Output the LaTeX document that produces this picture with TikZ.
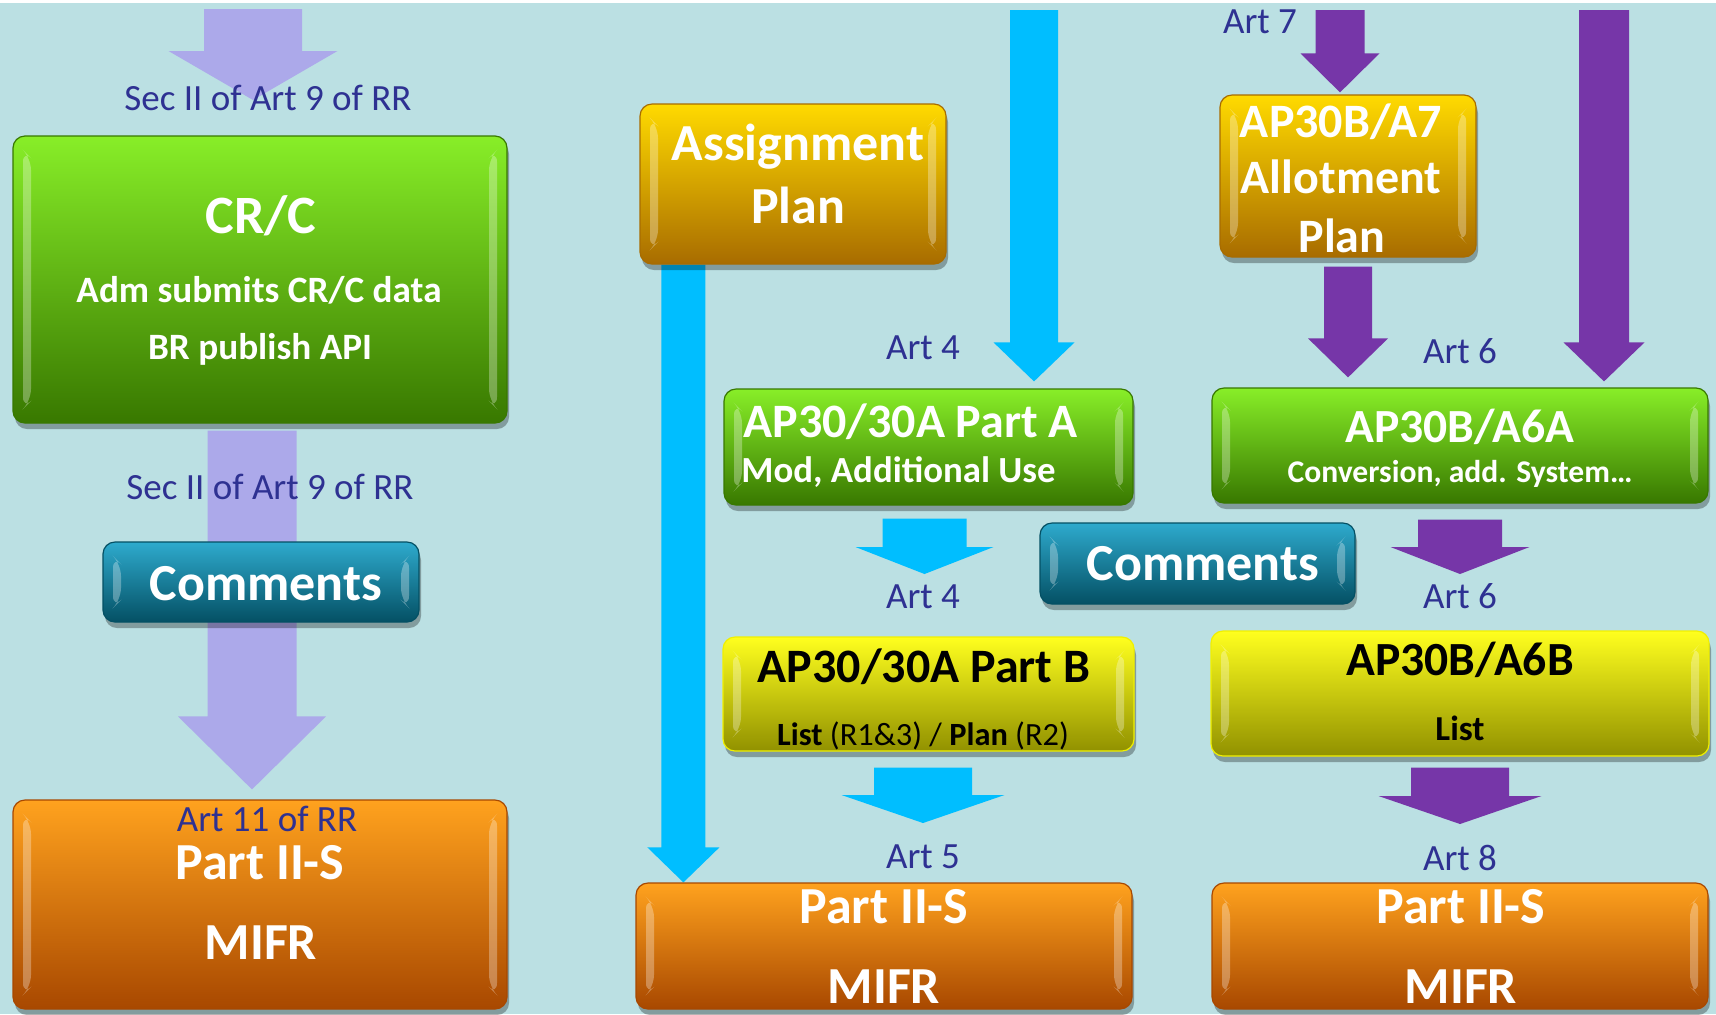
\documentclass[tikz,border=0pt]{standalone}
\usepackage{fontspec}
\setmainfont{Carlito}
\usepackage{tikz}
\usetikzlibrary{calc}
\usetikzlibrary{shadows}
\usetikzlibrary{positioning}

\definecolor{bgblue}{RGB}{187,224,227}
\definecolor{lavender}{RGB}{172,169,234}
\definecolor{skyflow}{RGB}{0,190,255}
\definecolor{purpflow}{RGB}{118,54,168}
\definecolor{tagblue}{RGB}{46,49,146}
\definecolor{greenT}{RGB}{136,238,40}
\definecolor{greenB}{RGB}{56,120,0}
\definecolor{tealT}{RGB}{46,170,205}
\definecolor{tealB}{RGB}{4,80,100}
\definecolor{orangeT}{RGB}{255,162,30}
\definecolor{orangeB}{RGB}{168,72,0}
\definecolor{amberT}{RGB}{255,218,0}
\definecolor{amberB}{RGB}{168,108,0}
\definecolor{yellowT}{RGB}{255,255,30}
\definecolor{yellowB}{RGB}{145,145,0}
\definecolor{yellowE}{RGB}{240,240,0}

\pgfdeclarelayer{back}
\pgfdeclarelayer{flow}
\pgfsetlayers{back,flow,main}

% fat arrow: colour, shaft half width, head half width, head length, from, to (sizes in px)
\newcommand{\blockarrow}[6]{%
	\fill[#1] let \p1=(#5), \p2=(#6) in
		(\x1-#2*0.5pt,\y1) -- (\x1+#2*0.5pt,\y1) -- (\x1+#2*0.5pt,\y2+#4*0.5pt)
		-- (\x1+#3*0.5pt,\y2+#4*0.5pt) -- (\x1,\y2) -- (\x1-#3*0.5pt,\y2+#4*0.5pt)
		-- (\x1-#2*0.5pt,\y2+#4*0.5pt) -- cycle;}

\tikzset{
	box/.style 2 args={draw=#2, line width=.6pt, rounded corners=6pt, inner sep=0pt,
		top color=#1, bottom color=#2,
		drop shadow={shadow xshift=1pt, shadow yshift=-3pt, opacity=.3, fill=black},
		path picture={
			\fill[white,opacity=.3] ([xshift=5pt,yshift=-7pt]path picture bounding box.north west)
				-- ([xshift=9pt,yshift=-11pt]path picture bounding box.north west)
				-- ([xshift=9pt,yshift=11pt]path picture bounding box.south west)
				-- ([xshift=5pt,yshift=7pt]path picture bounding box.south west) -- cycle;
			\fill[white,opacity=.3] ([xshift=-5pt,yshift=-7pt]path picture bounding box.north east)
				-- ([xshift=-9pt,yshift=-11pt]path picture bounding box.north east)
				-- ([xshift=-9pt,yshift=11pt]path picture bounding box.south east)
				-- ([xshift=-5pt,yshift=7pt]path picture bounding box.south east) -- cycle;
		}},
	greenbox/.style={box={greenT}{greenB}},
	tealbox/.style={box={tealT}{tealB}},
	orangebox/.style={box={orangeT}{orangeB}},
	amberbox/.style={box={amberT}{amberB}},
	yellowbox/.style={box={yellowT}{yellowB}, draw=yellowE},
	boxtitle/.style={font=\fontsize{#1}{#1}\selectfont\bfseries, text=white, anchor=base, inner sep=0pt},
	boxtitle/.default=26,
	boxline/.style={font=\fontsize{#1}{#1}\selectfont\bfseries, text=white, anchor=base, inner sep=0pt},
	boxline/.default=18.6,
	artlabel/.style={font=\fontsize{18.5}{18.5}\selectfont, text=tagblue, anchor=base, inner sep=0pt},
}

\begin{document}
\begin{tikzpicture}[x=0.5pt, y=-0.5pt]
	\useasboundingbox (0,0) rectangle (1716,1014);
	\begin{pgfonlayer}{back}
		\fill[white] (0,0) rectangle (1716,3);
		\fill[bgblue] (0,3) rectangle (1716,1014);
	\end{pgfonlayer}

	% boxes
	\node[greenbox, minimum width=247pt, minimum height=143.5pt] (crc) at (260,279.5) {};
	\node[tealbox, minimum width=158pt, minimum height=40pt] (comL) at (261,582) {};
	\node[orangebox, minimum width=247pt, minimum height=104.5pt] (mifrL) at (260,904.5) {};
	\node[amberbox, minimum width=153pt, minimum height=80pt] (assign) at (793,184) {};
	\node[greenbox, minimum width=204.5pt, minimum height=58pt] (partA) at (928.5,447) {};
	\node[tealbox, minimum width=157.5pt, minimum height=40.5pt] (comM) at (1197.5,563.5) {};
	\node[yellowbox, minimum width=205.5pt, minimum height=57pt] (partB) at (928.5,694) {};
	\node[orangebox, minimum width=248pt, minimum height=63pt] (mifrM) at (884,946) {};
	\node[amberbox, minimum width=128pt, minimum height=81pt] (allot) at (1348,176) {};
	\node[greenbox, minimum width=248pt, minimum height=57.5pt] (a6a) at (1460,445.5) {};
	\node[yellowbox, minimum width=249pt, minimum height=62.5pt] (a6b) at (1460,693.5) {};
	\node[orangebox, minimum width=248pt, minimum height=63pt] (mifrR) at (1460,946) {};

	\coordinate (lavTop) at (253,9);
	\coordinate (lavTip) at (253,100);
	\coordinate (skyTop) at (1034,10);
	\coordinate (skyCtip) at (924,574);
	\coordinate (skyDtip) at (923,823);
	\coordinate (purTopA) at (1340,10);
	\coordinate (purTopB) at (1604,10);
	\coordinate (purHtip) at (1460,574);
	\coordinate (purItip) at (1460,824);

	% flows
	\begin{pgfonlayer}{flow}
		\blockarrow{lavender}{49}{84.5}{49}{lavTop}{lavTip}
		\blockarrow{lavender}{44.5}{74}{73}{[xshift=-4pt,yshift=-3.5pt]crc.south}{[yshift=5pt]mifrL.north}
		\blockarrow{skyflow}{22}{36}{35}{[xshift=22pt]assign.south west}{mifrM.north}
		\blockarrow{skyflow}{24}{40.5}{39}{skyTop}{[yshift=3.5pt]partA.north}
		\blockarrow{skyflow}{42}{69}{27}{[xshift=-2pt,yshift=-6.5pt]partA.south}{skyCtip}
		\blockarrow{skyflow}{49}{81.5}{28}{[xshift=-2.75pt,yshift=-8pt]partB.south}{skyDtip}
		\blockarrow{purpflow}{24.5}{39.5}{39}{purTopA}{[yshift=1pt]allot.north}
		\blockarrow{purpflow}{24}{40}{39}{[yshift=-4.5pt]allot.south}{[yshift=5pt]a6a.north}
		\blockarrow{purpflow}{25}{40.5}{39}{purTopB}{[yshift=3pt]a6a.north}
		\blockarrow{purpflow}{42}{69.5}{27}{[yshift=-8pt]a6a.south}{purHtip}
		\blockarrow{purpflow}{49}{81.5}{28}{[yshift=-5.5pt]a6b.south}{purItip}
	\end{pgfonlayer}

	% labels
	\node[artlabel] (secA) at (268,110) {Sec II of Art 9 of RR};
	\node[artlabel] (secB) at (270,499) {Sec II of Art 9 of RR};
	\node[artlabel] (art11) at (267,831) {Art 11 of RR};
	\node[artlabel] (art4a) at (923,359) {Art 4};
	\node[artlabel] (art4b) at (923,608) {Art 4};
	\node[artlabel] (art5) at (923,868) {Art 5};
	\node[artlabel] (art7) at (1260,33) {Art 7};
	\node[artlabel] (art6a) at (1460,363) {Art 6};
	\node[artlabel] (art6b) at (1460,608) {Art 6};
	\node[artlabel] (art8) at (1460,870) {Art 8};

	% box texts
	\node[boxtitle=27] (crcT) at (261,233) {CR/C};
	\node[boxline] (crcA) at (259,302) {Adm submits CR/C data};
	\node[boxline] (crcB) at (260,359) {BR publish API};
	\node[boxtitle] (comLT) at (266,600) {Comments};
	\node[boxtitle] (mifrLA) at (260,879) {Part II-S};
	\node[boxtitle] (mifrLB) at (261,959) {MIFR};
	\node[boxtitle] (assignA) at (798,160) {Assignment};
	\node[boxtitle] (assignB) at (798,223) {Plan};
	\node[boxtitle=24, anchor=base west] (partAT) at (743,437) {AP30/30A Part A};
	\node[boxline=18.4, anchor=base west] (partAS) at (741,482) {Mod, Additional Use};
	\node[boxtitle] (comMT) at (1203,580) {Comments};
	\node[boxtitle=24, text=black] (partBT) at (924,682) {AP30/30A Part B};
	\node[boxline=16.2, text=black] (partBS) at (923,745) {List \mdseries(R1\&3) / \bfseries Plan \mdseries(R2)};
	\node[boxtitle] (mifrMA) at (884,923) {Part II-S};
	\node[boxtitle] (mifrMB) at (884,1003) {MIFR};
	\node[boxtitle=24] (allotA) at (1341,137) {AP30B/A7};
	\node[boxtitle=24] (allotB) at (1341,193) {Allotment};
	\node[boxtitle=24] (allotC) at (1342,252) {Plan};
	\node[boxtitle=23.8] (a6aT) at (1460,442) {AP30B/A6A};
	\node[boxline=15.8] (a6aS) at (1460,482) {Conversion, add. System…};
	\node[boxtitle=23.8, text=black] (a6bT) at (1460,675) {AP30B/A6B};
	\node[boxline=17.5, text=black] (a6bS) at (1460,740) {List};
	\node[boxtitle] (mifrRA) at (1461,923) {Part II-S};
	\node[boxtitle] (mifrRB) at (1461,1003) {MIFR};
\end{tikzpicture}
\end{document}
